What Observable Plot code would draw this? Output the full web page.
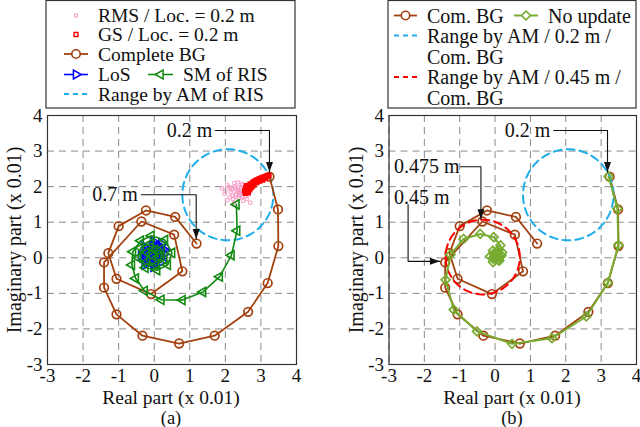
<!DOCTYPE html>
<html><head><meta charset="utf-8">
<script src="https://cdn.jsdelivr.net/npm/d3@7"></script>
<script src="https://cdn.jsdelivr.net/npm/@observablehq/plot@0.6"></script>
<style>
html,body{margin:0;padding:0;background:#fff;}
body{width:640px;height:427px;position:relative;overflow:hidden;font-family:"Liberation Serif","Times New Roman",serif;}
.panel{position:absolute;top:0;}
#overlay{position:absolute;left:0;top:0;pointer-events:none;}
svg text{font-family:"Liberation Serif","Times New Roman",serif !important;}
</style></head><body>
<div id="pa" class="panel" style="left:0"></div>
<div id="pb" class="panel" style="left:320px"></div>
<svg id="overlay" width="640" height="427"></svg>
<script>
// ---------- data ----------
const xTicks = [-3,-2,-1,0,1,2,3,4];
const yTicks = [-3,-2,-1,0,1,2,3,4];

// Complete / Com. BG, location 0.2 m .. 0.7 m (step 0.025 m)
const bgLoc = [0.2,0.225,0.25,0.275,0.3,0.325,0.35,0.375,0.4,0.425,0.45,0.475,0.5,0.525,0.55,0.575,0.6,0.625,0.65,0.675,0.7];
const bgX = [3.24,3.48,3.49,3.19,2.64,1.70,0.70,-0.33,-1.06,-1.41,-1.41,-0.36,0.56,0.79,-0.09,-1.06,-1.29,-1.00,-0.23,0.59,1.19];
const bgY = [2.28,1.36,0.33,-0.71,-1.52,-2.19,-2.41,-2.19,-1.59,-0.84,-0.13,1.02,0.65,-0.38,-1.02,-0.59,0.13,0.89,1.33,1.15,0.40];

// SM of RIS
const smX = [2.31,2.33,2.17,1.84,1.37,0.79,0.20,-0.27,-0.52,-0.63,-0.60,-0.38,-0.08,0.30,0.50,0.38,0.08,-0.25,-0.45,-0.38,-0.10,0.20,0.28,0.05,-0.20,-0.22,0.02,0.12,-0.05];
const smY = [1.50,0.76,0.07,-0.53,-0.96,-1.19,-1.18,-0.93,-0.58,-0.20,0.17,0.48,0.62,0.50,0.14,-0.20,-0.35,-0.28,0.00,0.28,0.40,0.25,-0.05,-0.20,-0.10,0.15,0.22,0.02,0.05];

// LoS
const losX = [0.28,0.22,-0.02,-0.27,-0.37,-0.27,-0.02,0.22,0.30,0.20,-0.04,-0.22,-0.32,-0.20,0.00,0.18,0.24,0.14,-0.06,-0.18,-0.26,-0.12,0.06,0.16,0.10,-0.04,-0.14,-0.10,0.02,0.10,0.06,-0.06,-0.02,0.04];
const losY = [0.10,0.38,0.46,0.32,0.06,-0.20,-0.26,-0.10,0.22,0.40,0.36,0.26,0.00,-0.16,-0.18,-0.02,0.24,0.34,0.30,0.16,-0.04,-0.12,-0.08,0.08,0.24,0.26,0.10,-0.04,-0.06,0.10,0.18,0.14,0.02,0.08];

// RMS / Loc. = 0.2 m
const rmsX = [1.90,1.98,2.05,2.12,2.18,2.25,2.30,2.36,2.42,2.48,2.55,2.62,2.70,2.05,2.15,2.22,2.28,2.35,2.40,2.45,2.52,2.58,2.10,2.20,2.32,2.38,2.44,2.50,2.25,2.35,2.42,2.48,2.30,2.38,2.60,2.66,2.00,2.14,2.28,2.46];
const rmsY = [1.95,1.80,2.05,1.70,1.92,2.10,1.78,1.98,1.85,2.05,1.72,1.88,1.55,1.62,1.85,1.65,2.00,1.90,1.75,1.95,1.82,2.00,2.00,1.75,1.85,1.68,1.92,1.60,1.55,2.12,1.78,1.70,1.95,1.82,1.65,1.78,1.88,1.96,1.70,2.08];

// GS / Loc. = 0.2 m
const gsX = [2.55,2.58,2.62,2.60,2.66,2.70,2.74,2.78,2.82,2.86,2.90,2.94,2.98,3.02,3.06,3.10,3.14,3.18,3.22,2.64,2.72,2.80,2.88,2.57,2.68,2.76,2.96,3.04,3.12];
const gsY = [1.88,1.96,1.90,2.02,2.00,2.06,2.08,2.12,2.14,2.17,2.18,2.20,2.22,2.24,2.25,2.27,2.28,2.30,2.31,1.84,1.98,2.06,2.12,1.82,1.92,2.02,2.16,2.19,2.23];

// No update (panel b)
const nuX = [3.21,3.46,3.49,3.19,2.58,1.61,0.48,-0.51,-1.17,-1.40,-1.26,-0.89,-0.42,-0.04,0.15,0.20,0.12,-0.06,-0.14,-0.06,0.10,0.18,0.08,-0.06,-0.04,0.08,0.12,0.02,0.00,0.06,0.04];
const nuY = [2.29,1.38,0.35,-0.70,-1.65,-2.26,-2.42,-2.07,-1.46,-0.62,0.09,0.53,0.67,0.58,0.35,0.15,-0.08,-0.12,0.04,0.20,0.22,0.06,-0.06,-0.02,0.12,0.14,0.02,-0.02,0.08,0.06,0.02];

// Range by AM circles: centre and radius
const rangeName = ["0.2 m","0.45 m"];
const rangeCX = [2.07,-0.35];
const rangeCY = [1.77,0.02];
const rangeR  = [1.28,1.05];

// annotation labels
const annA = [
  {label:"0.2 m", tx:1.63, ty:3.58, anchor:"end", path:[[1.72,3.58],[3.24,3.58],[3.24,2.41]], dir:"down"},
  {label:"0.7 m", tx:-0.46, ty:1.77, anchor:"end", path:[[-0.36,1.77],[1.18,1.77],[1.18,0.53]], dir:"down"}
];
const annB = [
  {label:"0.2 m", tx:1.56, ty:3.58, anchor:"end", path:[[1.66,3.58],[3.18,3.58],[3.18,2.41]], dir:"down"},
  {label:"0.475 m", tx:-2.86, ty:2.56, anchor:"start", path:[[-0.98,2.56],[-0.40,2.56],[-0.40,1.08]], dir:"down"},
  {label:"0.45 m", tx:-2.86, ty:1.70, anchor:"start", path:[[-2.46,1.50],[-2.46,-0.10],[-1.56,-0.10]], dir:"right"}
];

// ---------- helpers ----------
const zip = (xs, ys) => xs.map((x,i)=>({x, y: ys[i]}));
const circlePts = i => d3.range(0, 361, 4).map(a => ({
  x: rangeCX[i] + rangeR[i]*Math.cos(a*Math.PI/180),
  y: rangeCY[i] + rangeR[i]*Math.sin(a*Math.PI/180)}));

const C = {brown:"#a3410f", green:"#108a10", blue:"#0000ff", cyan:"#1eaeea", lgreen:"#77ac30", red:"#ff0000", pink:"#f59ac4"};
const FONT = '"Liberation Serif","Times New Roman",serif';

const arrowHead = {draw(ctx){ ctx.moveTo(0,0); ctx.lineTo(-3.5,10); ctx.lineTo(3.5,10); ctx.closePath(); }};

function annMarks(ann){
  const segs = [];
  ann.forEach((a,k)=>a.path.forEach(p=>segs.push({k, x:p[0], y:p[1]})));
  const heads = ann.map(a=>({x:a.path[a.path.length-1][0], y:a.path[a.path.length-1][1], dir:a.dir}));
  return [
    Plot.line(segs, {x:"x", y:"y", z:"k", stroke:"#111", strokeWidth:1.1}),
    Plot.dot(heads.filter(h=>h.dir==="down"), {x:"x", y:"y", symbol:arrowHead, r:4, fill:"#111", stroke:"none", rotate:180}),
    Plot.dot(heads.filter(h=>h.dir==="right"), {x:"x", y:"y", symbol:arrowHead, r:4, fill:"#111", stroke:"none", rotate:90}),
    Plot.text(ann.filter(a=>a.anchor==="end"), {x:"tx", y:"ty", text:"label", textAnchor:"end", fontSize:20, fill:"#111"}),
    Plot.text(ann.filter(a=>a.anchor==="start"), {x:"tx", y:"ty", text:"label", textAnchor:"start", fontSize:20, fill:"#111"})
  ];
}

function panel(mLeft, mRight, marks){
  return Plot.plot({
    width:320, height:427,
    marginLeft:mLeft, marginRight:mRight, marginTop:115, marginBottom:63,
    x:{domain:[-3,4]}, y:{domain:[-3,4]},
    style:{fontFamily:FONT, fontSize:"19px", background:"transparent", color:"#111", overflow:"visible"},
    marks:[
      Plot.gridX(xTicks, {stroke:"#8a8a8a", strokeOpacity:1, strokeDasharray:"7,5", strokeWidth:1}),
      Plot.gridY(yTicks, {stroke:"#8a8a8a", strokeOpacity:1, strokeDasharray:"7,5", strokeWidth:1}),
      ...marks,
      Plot.frame({stroke:"#333", strokeWidth:1.2}),
      Plot.axisX(xTicks, {tickSize:0, tickPadding:4, label:null, tickFormat:d=>String(d), fontSize:19}),
      Plot.axisY(yTicks, {tickSize:0, tickPadding:5, label:null, tickFormat:d=>String(d), fontSize:19})
    ]
  });
}

// ---------- panel (a) ----------
const bg = zip(bgX, bgY);
const plotA = panel(47, 24, [
  Plot.line(circlePts(0), {x:"x", y:"y", stroke:C.cyan, strokeWidth:2, strokeDasharray:"8,5"}),
  Plot.line(bg, {x:"x", y:"y", stroke:C.brown, strokeWidth:1.8}),
  Plot.dot(bg, {x:"x", y:"y", r:4.3, stroke:C.brown, strokeWidth:1.7, fill:"none"}),
  Plot.dot(zip(rmsX, rmsY), {x:"x", y:"y", symbol:"square", r:1.8, stroke:C.pink, strokeWidth:0.9, fill:"none"}),
  Plot.dot(zip(gsX, gsY), {x:"x", y:"y", symbol:"square", r:2.6, stroke:C.red, strokeWidth:1.2, fill:C.red}),
  Plot.line(zip(losX, losY), {x:"x", y:"y", stroke:C.blue, strokeWidth:1.4}),
  Plot.dot(zip(losX, losY), {x:"x", y:"y", symbol:"triangle", rotate:90, r:3.3, stroke:C.blue, strokeWidth:1.4, fill:"none"}),
  Plot.line(zip(smX, smY), {x:"x", y:"y", stroke:C.green, strokeWidth:1.6}),
  Plot.dot(zip(smX, smY), {x:"x", y:"y", symbol:"triangle", rotate:-90, r:3.4, stroke:C.green, strokeWidth:1.6, fill:"none"}),
  ...annMarks(annA)
]);
document.getElementById("pa").appendChild(plotA);

// ---------- panel (b) ----------
const plotB = panel(68.5, 4, [
  Plot.line(bg, {x:"x", y:"y", stroke:C.brown, strokeWidth:1.8}),
  Plot.dot(bg, {x:"x", y:"y", r:4.3, stroke:C.brown, strokeWidth:1.7, fill:"none"}),
  Plot.line(circlePts(0), {x:"x", y:"y", stroke:C.cyan, strokeWidth:2, strokeDasharray:"8,5"}),
  Plot.line(circlePts(1), {x:"x", y:"y", stroke:C.red, strokeWidth:2, strokeDasharray:"8,5"}),
  Plot.line(zip(nuX, nuY), {x:"x", y:"y", stroke:C.lgreen, strokeWidth:2}),
  Plot.dot(zip(nuX, nuY), {x:"x", y:"y", symbol:"diamond2", r:4, stroke:C.lgreen, strokeWidth:1.7, fill:"none"}),
  ...annMarks(annB)
]);
document.getElementById("pb").appendChild(plotB);

// ---------- legends, axis titles, captions ----------
const ov = d3.select("#overlay").style("font-family", FONT);
const T = (x,y,s,opt={}) => ov.append("text").attr("x",x).attr("y",y).attr("dominant-baseline","central")
   .attr("font-size",opt.size||19).attr("text-anchor",opt.anchor||"start").attr("fill","#111")
   .attr("transform",opt.rot?`rotate(-90,${x},${y})`:null).text(s);
const L = (x1,x2,y,col,dash,w=2) => ov.append("line").attr("x1",x1).attr("x2",x2).attr("y1",y).attr("y2",y)
   .attr("stroke",col).attr("stroke-width",w).attr("stroke-dasharray",dash||null);
const S = (x,y,type,r,col,rot=0,fill="none",sw=1.5) => ov.append("path")
   .attr("d", d3.symbol().type(type).size(Math.PI*r*r)()).attr("transform",`translate(${x},${y}) rotate(${rot})`)
   .attr("fill",fill).attr("stroke",col).attr("stroke-width",sw);

// legend (a)
ov.append("rect").attr("x",46).attr("y",0.5).attr("width",249).attr("height",107.5).attr("fill","#fff").attr("stroke","#333").attr("stroke-width",1.2);
S(76,15.5,d3.symbolSquare,1.8,C.pink,0,"none",1);  T(98,15.5,"RMS / Loc. = 0.2 m",{size:19.5});
S(76,34.5,d3.symbolSquare,2.2,C.red,0,"#fff",1.4);  T(98,34.5,"GS / Loc. = 0.2 m",{size:19.5});
L(64,88,54,C.brown,null,1.8); S(76,54,d3.symbolCircle,4.2,C.brown,0,"#fff",1.6); T(98,54,"Complete BG",{size:19.5});
L(64,88,74.5,C.blue,null,1.6); S(76,74.5,d3.symbolTriangle,3.3,C.blue,90,"#fff",1.5); T(98,74.5,"LoS",{size:19.5});
L(148,173,74.5,C.green,null,1.6); S(160.5,74.5,d3.symbolTriangle,3.3,C.green,-90,"#fff",1.5); T(183,74.5,"SM of RIS",{size:19.5});
L(64,88,94,C.cyan,"5,4",2); T(98,94,"Range by AM of RIS",{size:19.5});

// legend (b)
ov.append("rect").attr("x",388).attr("y",0.5).attr("width",248).attr("height",107.5).attr("fill","#fff").attr("stroke","#333").attr("stroke-width",1.2);
L(394,417,15.5,C.brown,null,1.8); S(405.5,15.5,d3.symbolCircle,4.2,C.brown,0,"#fff",1.6); T(427,15.5,"Com. BG",{size:20});
L(514,538,15.5,C.lgreen,null,2); S(526,15.5,d3.symbolDiamond2,4,C.lgreen,0,"#fff",1.6); T(548,15.5,"No update",{size:20});
L(394,417,35.5,C.cyan,"5,4",2); T(427,35.5,"Range by AM / 0.2 m /",{size:20}); T(427,57,"Com. BG",{size:20});
L(394,417,77,C.red,"5,4",2); T(427,77,"Range by AM / 0.45 m /",{size:20}); T(427,97.5,"Com. BG",{size:20});

// axis titles and captions
T(14,240,"Imaginary part (x 0.01)",{anchor:"middle",rot:true,size:20});
T(356,240,"Imaginary part (x 0.01)",{anchor:"middle",rot:true,size:20});
T(171,397.5,"Real part (x 0.01)",{anchor:"middle",size:19.5});
T(512,397.5,"Real part (x 0.01)",{anchor:"middle",size:19.5});
T(171,417.5,"(a)",{anchor:"middle",size:18.5});
T(512,417.5,"(b)",{anchor:"middle",size:18.5});
</script>
</body></html>
